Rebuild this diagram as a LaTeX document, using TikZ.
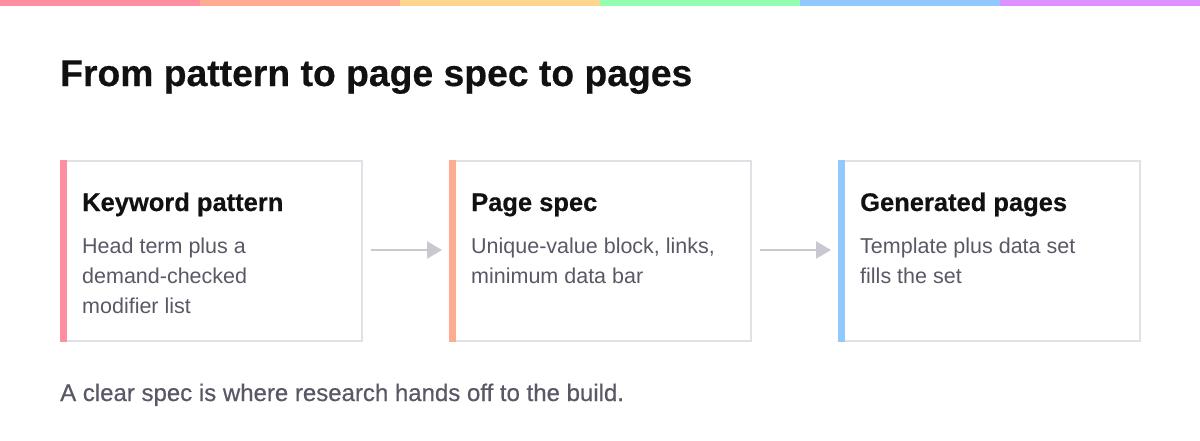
\documentclass[tikz,border=0pt]{standalone}
\usepackage{fontspec}
\setmainfont{Liberation Sans}
\newfontfamily\headfont[FakeBold=0.4]{Liberation Sans Bold}
\newfontfamily\footfont[FakeBold=0.5]{Liberation Sans}
\usetikzlibrary{arrows.meta}
\definecolor{cpink}{HTML}{FF8FA0}
\definecolor{csalmon}{HTML}{FFAB8F}
\definecolor{cyellow}{HTML}{FFD68F}
\definecolor{cgreen}{HTML}{95FFB0}
\definecolor{cblue}{HTML}{91C8FF}
\definecolor{cpurple}{HTML}{DD91FF}
\definecolor{cborder}{HTML}{E0E0E6}
\definecolor{carrow}{HTML}{C8C8D0}
\definecolor{cbody}{HTML}{5A5866}
\definecolor{ctitle}{HTML}{111111}
\tikzset{
  card/.style={draw=cborder, line width=1.5pt, minimum width=301pt, minimum height=180pt, anchor=north west, inner sep=0pt},
  heading/.style={anchor=base west, inner sep=0pt, text=ctitle, font=\headfont\fontsize{25.5}{30}\selectfont},
  bodytext/.style={anchor=base west, inner sep=0pt, text=cbody, font=\fontsize{21.5}{30}\selectfont, align=left},
  flow/.style={draw=carrow, line width=2.5pt, -{Triangle[length=15pt,width=17pt]}, shorten <=8pt, shorten >=7pt},
}
\begin{document}
\begin{tikzpicture}[x=1pt,y=-1pt]
\useasboundingbox (0,0) rectangle (1200,440);
\fill[white] (0,0) rectangle (1200,440);
% top bar
\fill[cpink] (0,0) rectangle (200,6);
\fill[csalmon] (200,0) rectangle (400,6);
\fill[cyellow] (400,0) rectangle (600,6);
\fill[cgreen] (600,0) rectangle (800,6);
\fill[cblue] (800,0) rectangle (1000,6);
\fill[cpurple] (1000,0) rectangle (1200,6);
% title
\node[anchor=base west, inner sep=0pt, text=ctitle, font=\headfont\fontsize{37.3}{44}\selectfont] (title) at (60,86) {From pattern to page spec to pages};
% cards
\node[card] (c1) at (60,160) {};
\node[card] (c2) at (449,160) {};
\node[card] (c3) at (838,160) {};
\fill[cpink] (c1.north west) rectangle ([xshift=7pt]c1.south west);
\fill[csalmon] (c2.north west) rectangle ([xshift=7pt]c2.south west);
\fill[cblue] (c3.north west) rectangle ([xshift=7pt]c3.south west);
% headings
\node[heading] (h1) at (82,211) {Keyword pattern};
\node[heading] (h2) at (471,211) {Page spec};
\node[heading] (h3) at (860,211) {Generated pages};
% bodies
\node[bodytext] (b1a) at (82,253) {Head term plus a};
\node[bodytext] (b1b) at (82,283) {demand-checked};
\node[bodytext] (b1c) at (82,313) {modifier list};
\node[bodytext] (b2a) at (471,253) {Unique-value block, links,};
\node[bodytext] (b2b) at (471,283) {minimum data bar};
\node[bodytext] (b3a) at (860,253) {Template plus data set};
\node[bodytext] (b3b) at (860,283) {fills the set};
% arrows
\coordinate (a1s) at (c1.east |- 0,250);
\coordinate (a1e) at (c2.west |- 0,250);
\coordinate (a2s) at (c2.east |- 0,250);
\coordinate (a2e) at (c3.west |- 0,250);
\draw[flow] (a1s) -- (a1e);
\draw[flow] (a2s) -- (a2e);
% footer
\node[bodytext, font=\footfont\fontsize{24}{30}\selectfont] (foot) at (60,401) {A clear spec is where research hands off to the build.};
\end{tikzpicture}
\end{document}
